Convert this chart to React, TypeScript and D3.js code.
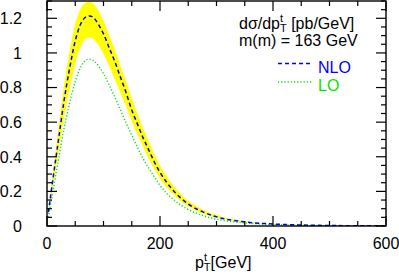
import React, {useEffect, useRef} from 'react';
import * as d3 from 'd3';

// transverse momentum of the top quark [GeV]
const ptValues = [2.5, 5, 10, 20, 30, 40, 50, 60, 70, 75, 80, 90, 100, 110, 120, 130,
  140, 150, 160, 170, 180, 190, 200, 225, 250, 275, 300, 350, 400, 450, 500, 550, 600];

// NLO central value [pb/GeV]
const nloValues = [0.08, 0.14, 0.26, 0.49, 0.72, 0.91, 1.07, 1.17, 1.21, 1.214, 1.21,
  1.17, 1.11, 1.03, 0.95, 0.86, 0.77, 0.67, 0.59, 0.51, 0.44, 0.37, 0.31, 0.2, 0.127,
  0.083, 0.053, 0.024, 0.0115, 0.0058, 0.0029, 0.0015, 0.0007];

// NLO scale band
const nloUpper = [0.095, 0.165, 0.3, 0.56, 0.81, 1.01, 1.17, 1.26, 1.292, 1.295, 1.29,
  1.25, 1.185, 1.105, 1.02, 0.925, 0.835, 0.74, 0.65, 0.565, 0.49, 0.415, 0.35, 0.228,
  0.146, 0.096, 0.062, 0.028, 0.0135, 0.0068, 0.0034, 0.0017, 0.0008];
const nloLower = [0.065, 0.12, 0.22, 0.42, 0.62, 0.79, 0.94, 1.04, 1.085, 1.089, 1.085,
  1.05, 0.995, 0.925, 0.85, 0.77, 0.69, 0.605, 0.53, 0.46, 0.39, 0.33, 0.275, 0.177,
  0.112, 0.073, 0.047, 0.021, 0.01, 0.005, 0.0025, 0.0013, 0.0006];

// LO
const loValues = [0.05, 0.1, 0.19, 0.38, 0.56, 0.71, 0.835, 0.92, 0.96, 0.964, 0.96,
  0.93, 0.88, 0.815, 0.745, 0.67, 0.595, 0.525, 0.455, 0.39, 0.335, 0.283, 0.235, 0.15,
  0.095, 0.061, 0.039, 0.018, 0.0085, 0.0042, 0.0021, 0.001, 0.0005];

const xTicks = [0, 200, 400, 600];
const xTickLabels = ['0', '200', '400', '600'];
const yTicks = [0, 0.2, 0.4, 0.6, 0.8, 1, 1.2];
const yTickLabels = ['0', '0.2', '0.4', '0.6', '0.8', '1', '1.2'];

const FONT = '"Liberation Sans", Arial, Helvetica, sans-serif';

export default function App() {
  const ref = useRef<SVGSVGElement>(null);

  useEffect(() => {
    const width = 399;
    const height = 277;
    const margin = {top: 1, right: 13, bottom: 51, left: 47};

    const svg = d3.select(ref.current);
    svg.selectAll('*').remove();

    const x = d3.scaleLinear()
        .domain([0, 600])
        .range([margin.left, width - margin.right]);
    const y = d3.scaleLinear()
        .domain([0, 1.3])
        .range([height - margin.bottom, margin.top]);

    svg.append('defs')
        .append('clipPath')
        .attr('id', 'plotArea')
        .append('rect')
        .attr('x', x(0))
        .attr('y', y(1.3))
        .attr('width', x(600) - x(0))
        .attr('height', y(0) - y(1.3));

    const plot = svg.append('g').attr('clip-path', 'url(#plotArea)');

    const idx = d3.range(ptValues.length);

    // yellow band
    const band = d3.area<number>()
        .x((i) => x(ptValues[i]))
        .y0((i) => y(nloLower[i]))
        .y1((i) => y(nloUpper[i]))
        .curve(d3.curveMonotoneX);
    plot.append('path')
        .datum(idx)
        .attr('d', band)
        .attr('fill', '#ffff00');

    const line = (vals: number[]) => d3.line<number>()
        .x((i) => x(ptValues[i]))
        .y((i) => y(vals[i]))
        .curve(d3.curveMonotoneX);

    plot.append('path')
        .datum(idx)
        .attr('d', line(loValues))
        .attr('fill', 'none')
        .attr('stroke', '#00e600')
        .attr('stroke-width', 1.4)
        .attr('stroke-dasharray', '1.2,2');

    plot.append('path')
        .datum(idx)
        .attr('d', line(nloValues))
        .attr('fill', 'none')
        .attr('stroke', '#0000ff')
        .attr('stroke-width', 1.5)
        .attr('stroke-dasharray', '4,3');

    // ticks on all four sides, pointing inwards
    const axisColor = '#000';
    const ticks = svg.append('g')
        .attr('stroke', axisColor)
        .attr('stroke-width', 1.2);

    const yMinor = d3.range(0, 1.3001, 0.05);
    yMinor.forEach((v) => {
      const major = yTicks.some((t) => Math.abs(t - v) < 1e-6);
      const len = major ? 10 : 5;
      ticks.append('line')
          .attr('x1', x(0)).attr('x2', x(0) + len)
          .attr('y1', y(v)).attr('y2', y(v));
      ticks.append('line')
          .attr('x1', x(600)).attr('x2', x(600) - len)
          .attr('y1', y(v)).attr('y2', y(v));
    });

    const xMinor = d3.range(0, 601, 50);
    xMinor.forEach((v) => {
      const major = xTicks.includes(v);
      const len = major ? 10 : 5;
      ticks.append('line')
          .attr('x1', x(v)).attr('x2', x(v))
          .attr('y1', y(0)).attr('y2', y(0) - len);
      ticks.append('line')
          .attr('x1', x(v)).attr('x2', x(v))
          .attr('y1', y(1.3)).attr('y2', y(1.3) + len);
    });

    // frame
    svg.append('rect')
        .attr('x', x(0))
        .attr('y', y(1.3))
        .attr('width', x(600) - x(0))
        .attr('height', y(0) - y(1.3))
        .attr('fill', 'none')
        .attr('stroke', axisColor)
        .attr('stroke-width', 1.4);

    // tick labels
    svg.append('g')
        .selectAll('text')
        .data(yTicks)
        .join('text')
        .attr('x', 22)
        .attr('y', (d) => y(d))
        .attr('dy', '0.36em')
        .attr('text-anchor', 'end')
        .attr('font-family', FONT)
        .attr('font-size', 16)
        .text((d, i) => yTickLabels[i]);

    svg.append('g')
        .selectAll('text')
        .data(xTicks)
        .join('text')
        .attr('x', (d) => x(d))
        .attr('y', 249)
        .attr('text-anchor', 'middle')
        .attr('font-family', FONT)
        .attr('font-size', 16)
        .text((d, i) => xTickLabels[i]);

    // x axis title: p_T^t[GeV]
    const xt = svg.append('text')
        .attr('x', 195)
        .attr('y', 268)
        .attr('font-family', FONT)
        .attr('font-size', 16);
    xt.append('tspan').text('p');
    xt.append('tspan').attr('font-size', 11).attr('dy', -7).text('t');
    xt.append('tspan').attr('font-size', 11).attr('dx', -3.1).attr('dy', 10).text('T');
    xt.append('tspan').attr('dy', -3).text('[GeV]');

    // annotation
    const t1 = svg.append('text')
        .attr('x', 239)
        .attr('y', 29)
        .attr('font-family', FONT)
        .attr('font-size', 16);
    t1.append('tspan').text('dσ/dp');
    t1.append('tspan').attr('font-size', 11).attr('dy', -7).text('t');
    t1.append('tspan').attr('font-size', 11).attr('dx', -3.1).attr('dy', 10).text('T');
    t1.append('tspan').attr('dy', -3).text(' [pb/GeV]');

    svg.append('text')
        .attr('x', 239)
        .attr('y', 46)
        .attr('font-family', FONT)
        .attr('font-size', 16)
        .text('m(m) = 163 GeV');

    // legend
    const legend = [
      {label: 'NLO', color: '#0000ff', dash: '4,3', y: 63.5, ty: 72.5},
      {label: 'LO', color: '#00e600', dash: '1.2,2', y: 82, ty: 90.5},
    ];
    legend.forEach((l) => {
      svg.append('line')
          .attr('x1', 278).attr('x2', 313)
          .attr('y1', l.y).attr('y2', l.y)
          .attr('stroke', l.color)
          .attr('stroke-width', 1.4)
          .attr('stroke-dasharray', l.dash);
      svg.append('text')
          .attr('x', 318)
          .attr('y', l.ty)
          .attr('font-family', FONT)
          .attr('font-size', 16)
          .attr('fill', l.color)
          .text(l.label);
    });
  }, []);

  return (
    <svg ref={ref} width={399} height={277}
      style={{position: 'absolute', left: 0, top: 0, background: '#fff'}} />
  );
}
